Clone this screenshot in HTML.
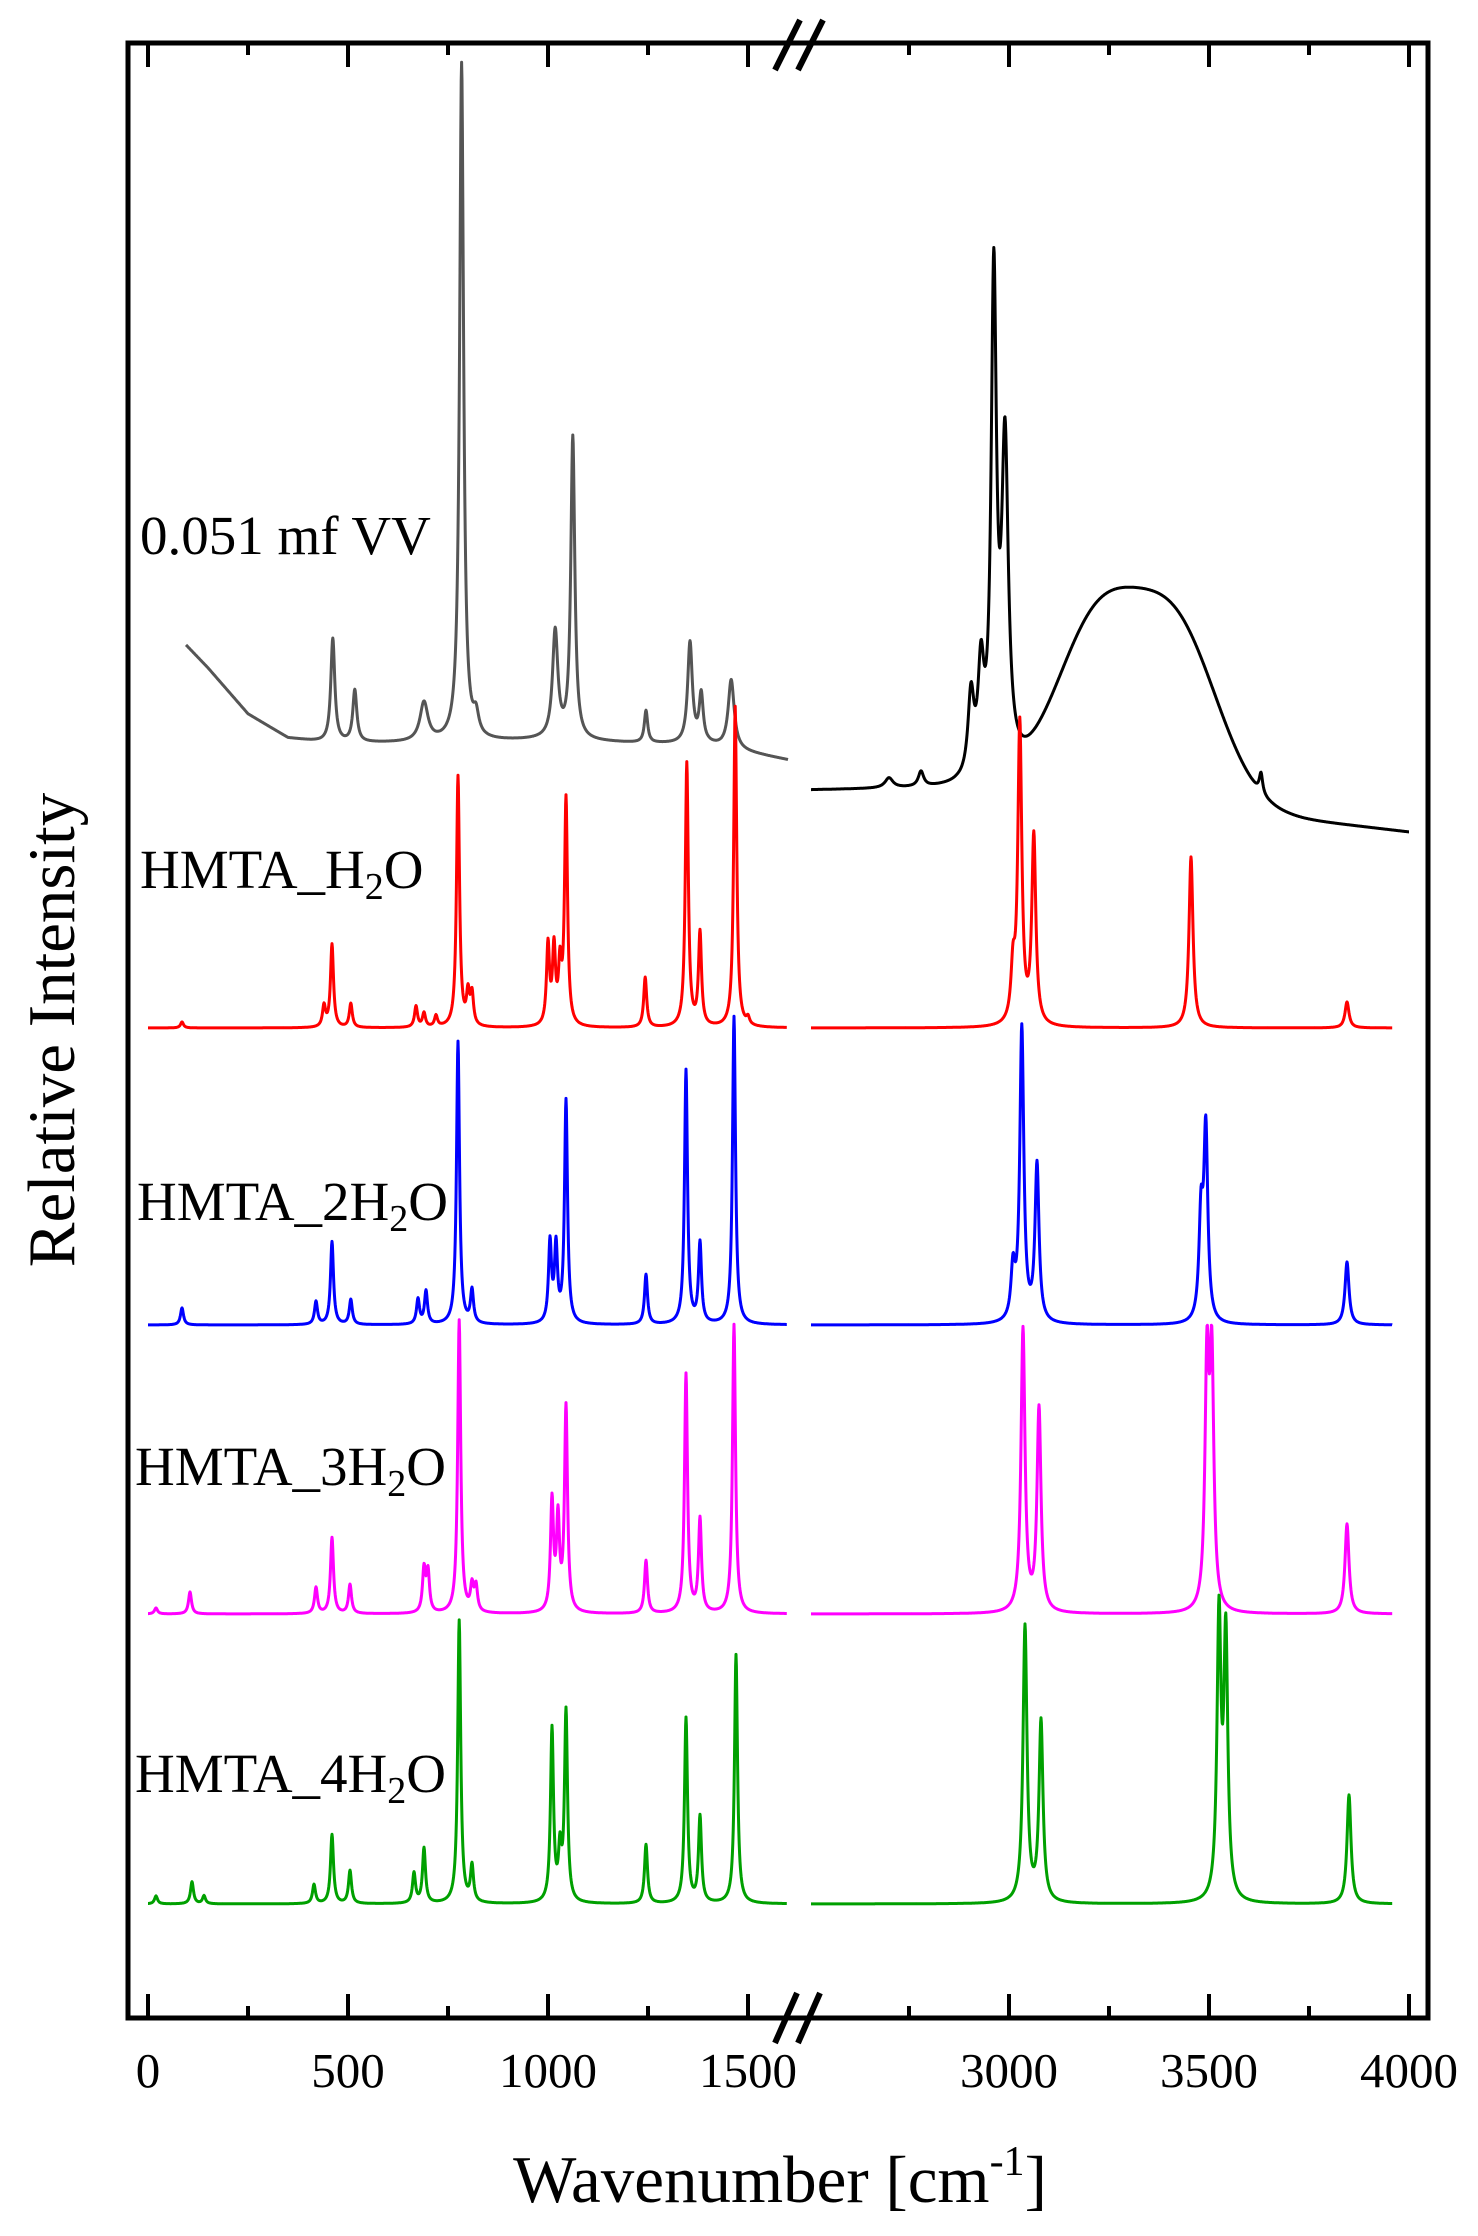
<!DOCTYPE html>
<html><head><meta charset="utf-8"><style>
body{margin:0;background:#fff}
svg{display:block;font-family:"Liberation Serif",serif}
</style></head><body>
<svg id="chart" width="1478" height="2236" viewBox="0 0 1478 2236" xmlns="http://www.w3.org/2000/svg">
<rect x="128" y="43" width="1300" height="1975" fill="none" stroke="#000" stroke-width="5"/>
<g id="ticks"></g>
<g id="series"></g>
<g stroke="#000" stroke-width="6">
<line x1="800" y1="20" x2="775" y2="70"/><line x1="823" y1="20" x2="798" y2="70"/></g>
<g stroke="#000" stroke-width="6">
<line x1="797" y1="1993" x2="775" y2="2043"/><line x1="820" y1="1993" x2="798" y2="2043"/></g>
<g id="ticklabels" font-size="49" text-anchor="middle"></g>
<text x="780" y="2202" font-size="67" text-anchor="middle">Wavenumber [cm<tspan dy="-27" font-size="42">-1</tspan><tspan dy="27">]</tspan></text>
<text transform="translate(74,1030) rotate(-90)" font-size="67" text-anchor="middle">Relative Intensity</text>
<g font-size="55">
<text x="140" y="554">0.051 mf VV</text>
<text x="140" y="888">HMTA_H<tspan dy="11" font-size="38">2</tspan><tspan dy="-11">O</tspan></text>
<text x="137" y="1220">HMTA_2H<tspan dy="11" font-size="38">2</tspan><tspan dy="-11">O</tspan></text>
<text x="135" y="1485">HMTA_3H<tspan dy="11" font-size="38">2</tspan><tspan dy="-11">O</tspan></text>
<text x="135" y="1792">HMTA_4H<tspan dy="11" font-size="38">2</tspan><tspan dy="-11">O</tspan></text>
</g>
</svg>
<script>
// x tick data
const majorTicks=[0,500,1000,1500,3000,3500,4000];
const minorTicks=[250,750,1250,2750,3250,3750];
const tickLabels=["0","500","1000","1500","3000","3500","4000"];
// experimental left (gray)
const expLeftBaseW=[95,150,250,350,450,700,1000,1200,1400,1600];
const expLeftBaseV=[137.3,135,130.4,128,127.5,127.5,127.8,127.5,127.3,125.8];
const expLeftPos=[462,517,690,784,820,1018,1062,1245,1355,1383,1458];
const expLeftH=[10.4,5.2,3.9,67.8,2,10.7,30.2,3.2,10.1,4.8,6.9];
const expLeftG=[6,6,12,6,8,8,6,5,7,6,9];
// experimental right (black)
const expRightBaseW=[2505,2870,3700,4000];
const expRightBaseV=[122.8,123,120,118.6];
const expRightPos=[2700,2780,2905,2930,2962,2990,3630];
const expRightH=[1,1.5,8,10,49,32,2];
const expRightG=[12,8,9,9,8,10,5];
const humpPos=[3220,3420];
const humpH=[17,17];
const humpSigma=[105,105];
// calculated spectra
const redBase=99.0;
const redPos=[85,440,460,507,670,690,720,775,800,810,1000,1015,1030,1045,1243,1347,1380,1468,1500,3010,3027,3062,3455,3845];
const redH=[0.6,2.1,8.3,2.4,2.1,1.4,1.1,25.1,3.1,3.1,8,7.5,5.5,22.6,5,26.4,9.3,32.1,0.7,5,30,18.8,17.1,2.6];
const blueBase=69.3;
const bluePos=[85,420,460,507,675,695,775,810,1005,1020,1045,1245,1345,1380,1465,3010,3032,3070,3480,3492,3845];
const blueH=[1.7,2.3,8.3,2.5,2.5,3.3,28.3,3.3,8,7.5,22.3,5,25.4,8,30.8,5,29.4,15.7,10,19,6.3];
const magentaBase=40.4;
const magentaPos=[20,105,420,460,505,690,700,778,810,820,1010,1025,1045,1245,1345,1380,1465,3035,3075,3495,3507,3845];
const magentaH=[0.6,2.2,2.6,7.6,2.9,4.3,4,29.3,2.5,2.5,11,9,20.5,5.3,23.9,9.3,28.9,28.3,20.3,24,24,9];
const greenBase=11.4;
const greenPos=[20,110,140,415,460,505,665,690,778,810,1010,1030,1045,1245,1345,1380,1470,3040,3080,3525,3542,3850];
const greenH=[0.8,2.2,0.8,1.9,6.9,3.3,3,5.5,28.3,3.6,17.3,4.8,19,5.9,18.5,8.6,24.9,27.6,18,28,26,10.9];

const NS="http://www.w3.org/2000/svg";
function xScale(w){return w<=2000?148+w*0.4:1009+(w-3000)*0.4;}
function yScale(v){return 2018-v*10;}
function interp(ws,vs,w){if(w<=ws[0])return vs[0];for(let i=1;i<ws.length;i++){if(w<=ws[i]){const t=(w-ws[i-1])/(ws[i]-ws[i-1]);return vs[i-1]+t*(vs[i]-vs[i-1]);}}return vs[vs.length-1];}
function lor(w,p,h,g){return h*g*g/((w-p)*(w-p)+g*g);}
function path(w0,w1,f){let d="";for(let w=w0;w<=w1;w+=1){d+=(w===w0?"M":"L")+xScale(w).toFixed(1)+","+yScale(f(w)).toFixed(1);}return d;}
const sg=document.getElementById('series');
function addPath(d,color,name){const p=document.createElementNS(NS,'path');p.setAttribute('d',d);p.setAttribute('fill','none');p.setAttribute('stroke',color);p.setAttribute('stroke-width','3');p.setAttribute('stroke-linejoin','round');


sg.appendChild(p);}
function calc(base,pos,h,gl,gr){return w=>{let v=base;for(let i=0;i<pos.length;i++)v+=lor(w,pos[i],h[i],pos[i]>2000?gr:gl);return v;};}
addPath(path(95,1600,w=>{let v=interp(expLeftBaseW,expLeftBaseV,w);for(let i=0;i<expLeftPos.length;i++)v+=lor(w,expLeftPos[i],expLeftH[i],expLeftG[i]);return v;}),'#555','exp-spectrum-left');
addPath(path(2505,4000,w=>{let v=interp(expRightBaseW,expRightBaseV,w);for(let i=0;i<expRightPos.length;i++)v+=lor(w,expRightPos[i],expRightH[i],expRightG[i]);for(let i=0;i<humpPos.length;i++)v+=humpH[i]*Math.exp(-Math.pow(w-humpPos[i],2)/(2*humpSigma[i]*humpSigma[i]));return v;}),'#000','exp-spectrum-right');
const calcs=[[redBase,redPos,redH,'#ff0000','hmta-h2o'],[blueBase,bluePos,blueH,'#0000ff','hmta-2h2o'],[magentaBase,magentaPos,magentaH,'#ff00ff','hmta-3h2o'],[greenBase,greenPos,greenH,'#00a000','hmta-4h2o']];
calcs.forEach(c=>{const f=calc(c[0],c[1],c[2],4.5,6);addPath(path(0,1597,f),c[3],c[4]+'-left');addPath(path(2505,3958,f),c[3],c[4]+'-right');});
const tg=document.getElementById('ticks');
function tick(w,len){[[2018,2018-len],[43,43+len]].forEach(a=>{const l=document.createElementNS(NS,'line');l.setAttribute('x1',xScale(w));l.setAttribute('x2',xScale(w));l.setAttribute('y1',a[0]);l.setAttribute('y2',a[1]);l.setAttribute('stroke','#000');l.setAttribute('stroke-width','4');


tg.appendChild(l);});}
majorTicks.forEach(w=>tick(w,24));minorTicks.forEach(w=>tick(w,12));
const lg=document.getElementById('ticklabels');
majorTicks.forEach((w,i)=>{const t=document.createElementNS(NS,'text');t.setAttribute('x',xScale(w));t.setAttribute('y',2087);t.textContent=tickLabels[i];


lg.appendChild(t);});
</script>
</body></html>
